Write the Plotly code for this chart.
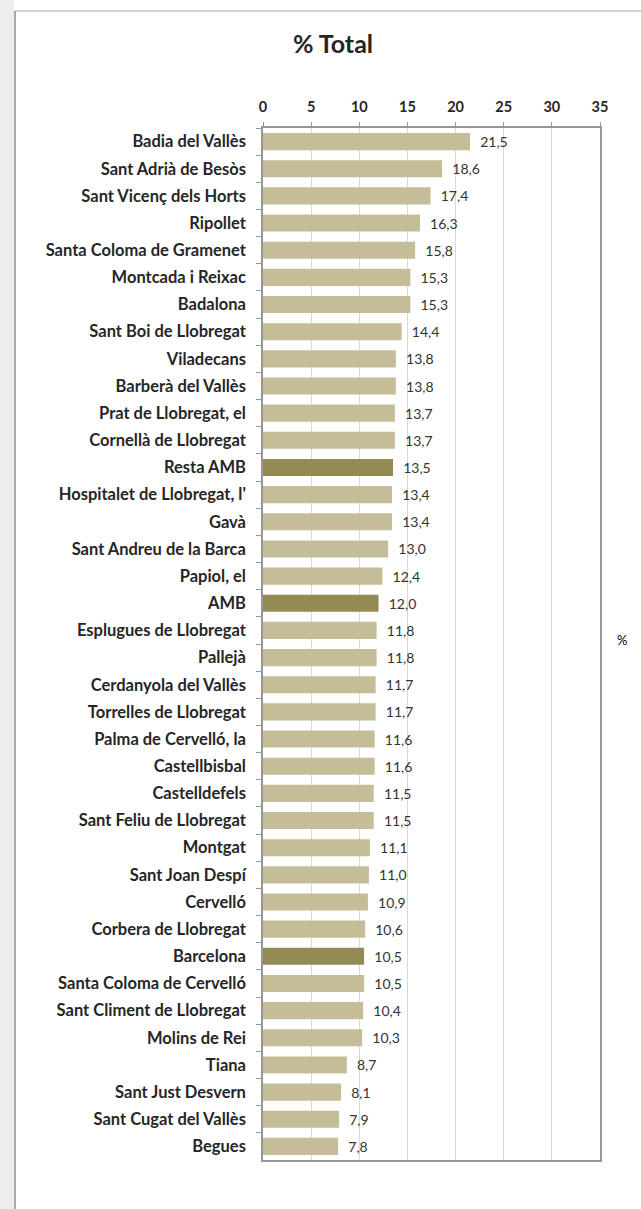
import plotly.graph_objects as go

categories = [
    "Badia del Vallès", "Sant Adrià de Besòs", "Sant Vicenç dels Horts", "Ripollet",
    "Santa Coloma de Gramenet", "Montcada i Reixac", "Badalona", "Sant Boi de Llobregat",
    "Viladecans", "Barberà del Vallès", "Prat de Llobregat, el", "Cornellà de Llobregat",
    "Resta AMB", "Hospitalet de Llobregat, l'", "Gavà", "Sant Andreu de la Barca",
    "Papiol, el", "AMB", "Esplugues de Llobregat", "Pallejà", "Cerdanyola del Vallès",
    "Torrelles de Llobregat", "Palma de Cervelló, la", "Castellbisbal", "Castelldefels",
    "Sant Feliu de Llobregat", "Montgat", "Sant Joan Despí", "Cervelló",
    "Corbera de Llobregat", "Barcelona", "Santa Coloma de Cervelló",
    "Sant Climent de Llobregat", "Molins de Rei", "Tiana", "Sant Just Desvern",
    "Sant Cugat del Vallès", "Begues",
]
values = [
    21.5, 18.6, 17.4, 16.3, 15.8, 15.3, 15.3, 14.4, 13.8, 13.8, 13.7, 13.7, 13.5,
    13.4, 13.4, 13.0, 12.4, 12.0, 11.8, 11.8, 11.7, 11.7, 11.6, 11.6, 11.5, 11.5,
    11.1, 11.0, 10.9, 10.6, 10.5, 10.5, 10.4, 10.3, 8.7, 8.1, 7.9, 7.8,
]
highlight = ["Resta AMB", "AMB", "Barcelona"]
x_ticks = [0, 5, 10, 15, 20, 25, 30, 35]

colors = ["#948A54" if c in highlight else "#C4BD97" for c in categories]
labels = ["\u00a0\u00a0" + f"{v:.1f}".replace(".", ",") for v in values]

FONT = "Lato, Open Sans, sans-serif"
W, H = 641, 1209
ML, MR, MT, MB = 263, 41, 128, 49

fig = go.Figure()
fig.add_trace(go.Bar(
    y=categories, x=values, orientation="h",
    marker=dict(color=colors, line=dict(width=0)),
    text=labels, textposition="outside", cliponaxis=False,
    textfont=dict(family=FONT, size=14, color="#333333"),
    name="%", showlegend=False,
))

def px_x(p):
    return (p - ML) / (W - ML - MR)

def px_y(p):
    return 1 - (p - MT) / (H - MT - MB)

fig.update_layout(
    width=W, height=H,
    margin=dict(l=ML, r=MR, t=MT, b=MB),
    paper_bgcolor="white", plot_bgcolor="white",
    bargap=0.37,
    uniformtext=dict(minsize=14, mode="show"),
    title=dict(text="<b>% Total</b>", x=333 / W, xanchor="center", xref="container",
               y=1 - 44 / H, yanchor="middle", yref="container",
               font=dict(family=FONT, size=25, color="#262626")),
    xaxis=dict(
        side="top", range=[0, 35], tickvals=x_ticks, ticktext=[f"<b>{t}</b>" for t in x_ticks],
        showgrid=True, gridcolor="#D9D9D9", gridwidth=1,
        showline=True, linecolor="#969696", linewidth=1.5, mirror=True,
        ticks="outside", ticklen=4, tickcolor="#969696",
        tickfont=dict(family=FONT, size=14.5, color="#262626"),
        ticklabelstandoff=4,
        zeroline=False, fixedrange=True,
    ),
    yaxis=dict(
        autorange="reversed", type="category",
        showline=True, linecolor="#969696", linewidth=1.5, mirror=True,
        ticks="outside", ticklen=5, tickcolor="#969696", tickson="boundaries",
        tickfont=dict(family=FONT, size=16.5, color="#262626"),
        ticklabelstandoff=12,
        tickprefix="<b>", ticksuffix="</b>",
        fixedrange=True,
    ),
    font=dict(family=FONT),
    annotations=[dict(
        text="%", x=px_x(622), y=px_y(640), xref="paper", yref="paper",
        xanchor="center", yanchor="middle", showarrow=False,
        font=dict(family=FONT, size=13, color="#000000"),
    )],
)

shapes = []
shapes.append(dict(type="rect", xref="paper", yref="paper",
                   x0=px_x(0), x1=px_x(14), y0=px_y(H), y1=px_y(0),
                   fillcolor="#EDEDED", line=dict(width=0), layer="below"))
shapes.append(dict(type="line", xref="paper", yref="paper",
                   x0=px_x(15), x1=px_x(15), y0=px_y(H), y1=px_y(11),
                   line=dict(color="#8C8C8C", width=1.5)))
shapes.append(dict(type="line", xref="paper", yref="paper",
                   x0=px_x(15), x1=px_x(W), y0=px_y(11), y1=px_y(11),
                   line=dict(color="#A6A6A6", width=1.2)))
fig.update_layout(shapes=shapes)

fig.write_html("out.html", config={"displayModeBar": False},
               post_script="document.body.style.margin='0';")
